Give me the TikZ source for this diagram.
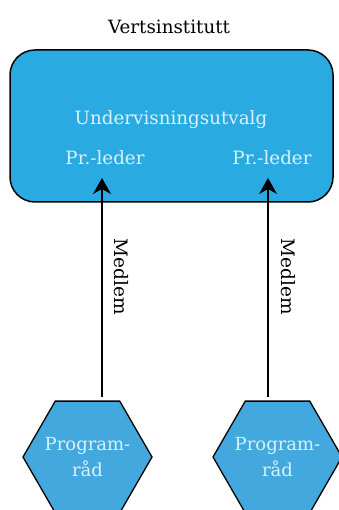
\documentclass[tikz,border=0pt]{standalone}
\usepackage{fontspec}
\setmainfont{DejaVu Serif}
\usepackage{tikz}
\usetikzlibrary{arrows.meta}
\usetikzlibrary{shapes.geometric}

\definecolor{boxblue}{RGB}{41,171,226}
\definecolor{hexblue}{RGB}{66,168,222}
\definecolor{paleblue}{RGB}{218,241,252}

\begin{document}
\begin{tikzpicture}[x=1pt, y=-1pt,
  instbox/.style={draw, line width=1.5pt, fill=boxblue, rounded corners=25pt,
    minimum width=323pt, minimum height=152pt},
  inner/.style={text=paleblue, font=\fontsize{18.3}{22}\selectfont},
  council/.style={regular polygon, regular polygon sides=6, draw, line width=1.3pt,
    fill=hexblue, minimum size=129pt, inner sep=-15pt, align=center,
    text=paleblue, font=\fontsize{18}{26}\selectfont},
  member/.style={rotate=-90, font=\fontsize{18.5}{22}\selectfont}]
\useasboundingbox (0,0) rectangle (339,510);
\clip (0,0) rectangle (339,510);

\node (vt) at (169,27) {\fontsize{18.3}{22}\selectfont Vertsinstitutt};
\node (vi) [instbox] at (171.5,126) {};
\node (uv) [inner] at (171,120) {Undervisningsutvalg};
\node (pl1) [inner] at (105,158) {Pr.-leder};
\node (pl2) [inner] at (272,158) {Pr.-leder};

\node (pr1) [council] at (87.5,457) {Program-\\råd};
\node (pr2) [council] at (277.5,457) {Program-\\råd};

\coordinate (m1) at (102,397); \coordinate (t1) at (102,178);
\coordinate (m2) at (268,397); \coordinate (t2) at (268,178);
\draw[->, >={Stealth[length=16pt, width=18pt, inset=5pt]}, line width=1.5pt] (m1) -- (t1);
\draw[->, >={Stealth[length=16pt, width=18pt, inset=5pt]}, line width=1.5pt] (m2) -- (t2);
\node (md1) [member] at (121,277) {Medlem};
\node (md2) [member] at (288,277) {Medlem};

\end{tikzpicture}
\end{document}
